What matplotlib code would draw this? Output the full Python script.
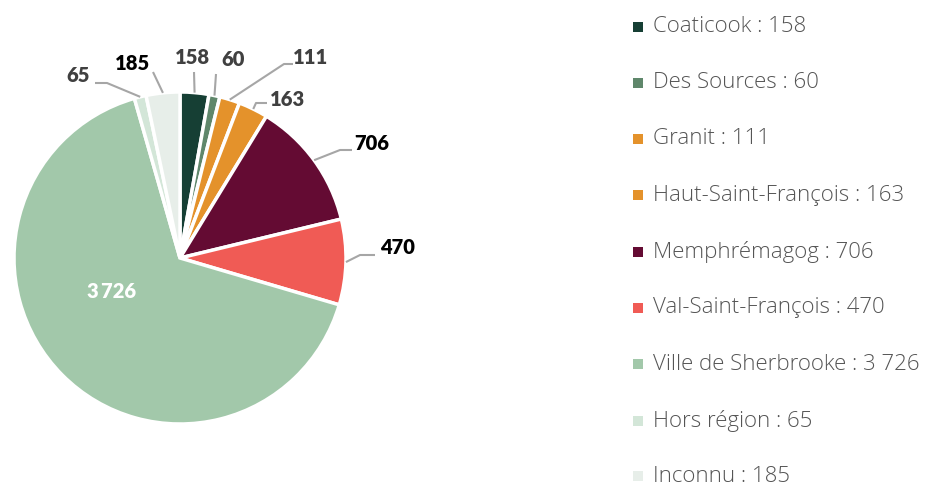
import matplotlib
matplotlib.use("Agg")
import matplotlib.pyplot as plt
import numpy as np

# ---- data ----
categories = ["Coaticook", "Des Sources", "Granit", "Haut-Saint-François",
              "Memphrémagog", "Val-Saint-François", "Ville de Sherbrooke",
              "Hors région", "Inconnu"]
values = [158, 60, 111, 163, 706, 470, 3726, 65, 185]
value_labels = ["158", "60", "111", "163", "706", "470", "3 726", "65", "185"]
pie_labels = ["158", "60", "111", "163", "706", "470", "3\u2009726", "65", "185"]
colors = ["#163f34", "#5f876b", "#e4922b", "#e4922b", "#640b33",
          "#f05b55", "#a2c8aa", "#d3e6d8", "#e7eee9"]
label_colors = ["#404040", "#404040", "#404040", "#404040", "#000000",
                "#000000", "#ffffff", "#404040", "#000000"]

# ---- layout (pixels in the 927x487 canvas) ----
W, H = 927, 487
CX, CY, R = 180, 258, 166
label_px = [(193, 58), (233, 60), (311, 58), (288, 99), (372, 143),
            (398, 248), (112, 292), (78, 75), (133, 63)]
elbow_px = [(194, 72), (216, 74), (284, 64), (256, 103), (340, 150),
            (360, 255), None, (107, 83), (153, 72)]
end_px = [(194, 72), (216, 74), (293, 64), (267, 103), (352, 150),
          (375, 255), None, (95, 83), (153, 72)]

fig = plt.figure(figsize=(W / 100, H / 100), dpi=100)
AX_W = 600
ax = fig.add_axes([0, 0, AX_W / W, 1])


def to_data(p):
    return ((p[0] - CX) / R, (CY - p[1]) / R)


wedges, _ = ax.pie(values, colors=colors, startangle=90, counterclock=False,
                   radius=1.0, center=(0, 0), frame=True,
                   wedgeprops=dict(edgecolor="white", linewidth=2.5))
ax.set_xlim((0 - CX) / R, (AX_W - CX) / R)
ax.set_ylim((CY - H) / R, CY / R)
ax.set_aspect("auto")
ax.axis("off")

for i, w in enumerate(wedges):
    ang = np.deg2rad((w.theta1 + w.theta2) / 2)
    edge = (np.cos(ang), np.sin(ang))
    lx, ly = to_data(label_px[i])
    if elbow_px[i] is not None:
        ex, ey = to_data(elbow_px[i])
        nx, ny = to_data(end_px[i])
        ax.plot([edge[0], ex, nx], [edge[1], ey, ny], color="#a6a6a6",
                lw=1.5, solid_capstyle="butt", zorder=1)
    ax.text(lx, ly, pie_labels[i], ha="center", va="center",
            fontsize=14.5, fontweight="heavy", family=["Lato", "DejaVu Sans"],
            color=label_colors[i])

# ---- legend ----
lax = fig.add_axes([0, 0, 1, 1])
lax.set_xlim(0, W)
lax.set_ylim(H, 0)
lax.axis("off")
row_y = [27, 83, 139, 195, 252, 308, 364, 421, 476]
for i, name in enumerate(categories):
    y = row_y[i]
    lax.add_patch(plt.Rectangle((633, y - 5), 10, 10, color=colors[i], lw=0))
    lax.text(653, y, f"{name} : {value_labels[i]}", ha="left", va="center",
             fontsize=16, family="Open Sans", fontweight="light",
             color="#555555")

fig.savefig("out.png", dpi=100)
